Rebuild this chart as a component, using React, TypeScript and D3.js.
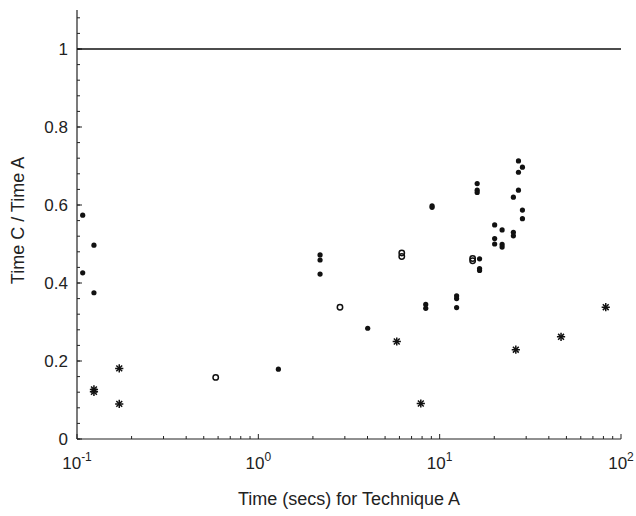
import React from 'react';
import * as d3 from 'd3';

// [time for technique A, ratio C/A]
const filledPoints: [number, number][] = [
  [0.1075, 0.574], [0.1075, 0.426], [0.124, 0.497], [0.124, 0.375],
  [1.29, 0.179],
  [2.19, 0.472], [2.19, 0.459], [2.19, 0.423],
  [4.01, 0.284],
  [8.38, 0.345], [8.38, 0.335],
  [9.08, 0.598], [9.08, 0.594],
  [12.4, 0.367], [12.4, 0.36], [12.4, 0.337],
  [16.1, 0.655], [16.1, 0.638], [16.1, 0.632],
  [16.6, 0.462], [16.6, 0.437], [16.6, 0.432],
  [20.1, 0.549], [20.1, 0.514], [20.1, 0.5],
  [22.1, 0.536], [22.1, 0.499], [22.1, 0.492],
  [25.5, 0.62], [25.5, 0.53], [25.5, 0.521],
  [27.2, 0.713], [27.2, 0.684], [27.2, 0.638],
  [28.6, 0.697], [28.6, 0.587], [28.6, 0.565],
];
const openPoints: [number, number][] = [
  [0.582, 0.158], [2.82, 0.338], [6.18, 0.477], [6.18, 0.468], [15.2, 0.463], [15.2, 0.457],
];
const starPoints: [number, number][] = [
  [0.124, 0.127], [0.124, 0.121], [0.171, 0.181], [0.171, 0.09], [5.8, 0.25],
  [7.87, 0.091], [26.3, 0.229], [46.7, 0.262], [82.4, 0.338],
];
const yTicks = [0, 0.2, 0.4, 0.6, 0.8, 1];
const xDecades = [-1, 0, 1, 2];
const refLine = 1;

const App = () => {
  const margin = { top: 10, right: 15, bottom: 77, left: 77 };
  const W = 636, H = 516;
  const x = d3.scaleLog().domain([0.1, 100]).range([margin.left, W - margin.right]);
  const y = d3.scaleLinear().domain([0, 1.1]).range([H - margin.bottom, margin.top]);
  const ink = '#222';
  const font = 'Liberation Sans, Arial, Helvetica, sans-serif';

  const yMinor = d3.range(0, 1.1, 0.04);
  const xMinor: number[] = [];
  xDecades.slice(0, -1).forEach(e => {
    for (let k = 2; k < 10; k++) xMinor.push(k * Math.pow(10, e));
  });

  const plus = d3.symbol(d3.symbolPlus, 24)();
  const times = d3.symbol(d3.symbolTimes, 24)();

  const x0 = x(0.1), x1 = x(100), yb = y(0), yt = y(1.1);

  return (
    <svg width={W} height={H} style={{ position: 'absolute', left: 0, top: 0 }} fontFamily={font}>
      <rect width={W} height={H} fill="#fff" />
      {/* axes */}
      <line x1={x0} x2={x0} y1={yt} y2={yb} stroke={ink} strokeWidth={1.2} />
      <line x1={x0} x2={x1} y1={yb} y2={yb} stroke={ink} strokeWidth={1.2} />
      {yMinor.map(v => (
        <line key={'ym' + v} x1={x0} x2={x0 + 3} y1={y(v)} y2={y(v)} stroke={ink} strokeWidth={1} />
      ))}
      {yTicks.map(v => (
        <g key={'y' + v}>
          <line x1={x0} x2={x0 + 5} y1={y(v)} y2={y(v)} stroke={ink} strokeWidth={1} />
          <text x={x0 - 9} y={y(v)} dy="0.36em" textAnchor="end" fontSize={17} fill={ink}>{v}</text>
        </g>
      ))}
      {xMinor.map(v => (
        <line key={'xm' + v} x1={x(v)} x2={x(v)} y1={yb} y2={yb - 3} stroke={ink} strokeWidth={1} />
      ))}
      {xDecades.map(e => (
        <g key={'x' + e}>
          <line x1={x(Math.pow(10, e))} x2={x(Math.pow(10, e))} y1={yb} y2={yb - 5} stroke={ink} strokeWidth={1} />
          <text x={x(Math.pow(10, e))} y={yb + 30} textAnchor="middle" fontSize={17} fill={ink}>
            10<tspan fontSize={12} dy={-8}>{e}</tspan>
          </text>
        </g>
      ))}
      {/* reference line */}
      <line x1={x0} x2={x1} y1={y(refLine)} y2={y(refLine)} stroke="#111" strokeWidth={1.6} />
      {/* marks */}
      {filledPoints.map((d, i) => (
        <circle key={'f' + i} cx={x(d[0])} cy={y(d[1])} r={2.6} fill="#111" />
      ))}
      {openPoints.map((d, i) => (
        <circle key={'o' + i} cx={x(d[0])} cy={y(d[1])} r={2.7} fill="none" stroke="#111" strokeWidth={1.5} />
      ))}
      {starPoints.map((d, i) => (
        <g key={'s' + i} transform={`translate(${x(d[0])},${y(d[1])})`} stroke="#111" strokeWidth={1.5} fill="none">
          <path d={plus || ''} />
          <path d={times || ''} />
        </g>
      ))}
      {/* titles */}
      <text x={(x0 + x1) / 2} y={505} textAnchor="middle" fontSize={18} fill={ink}>Time (secs) for Technique A</text>
      <text transform={`translate(24,${(yt + yb) / 2 - 4}) rotate(-90)`} textAnchor="middle" fontSize={18} fill={ink}>Time C / Time A</text>
    </svg>
  );
};

export default App;
